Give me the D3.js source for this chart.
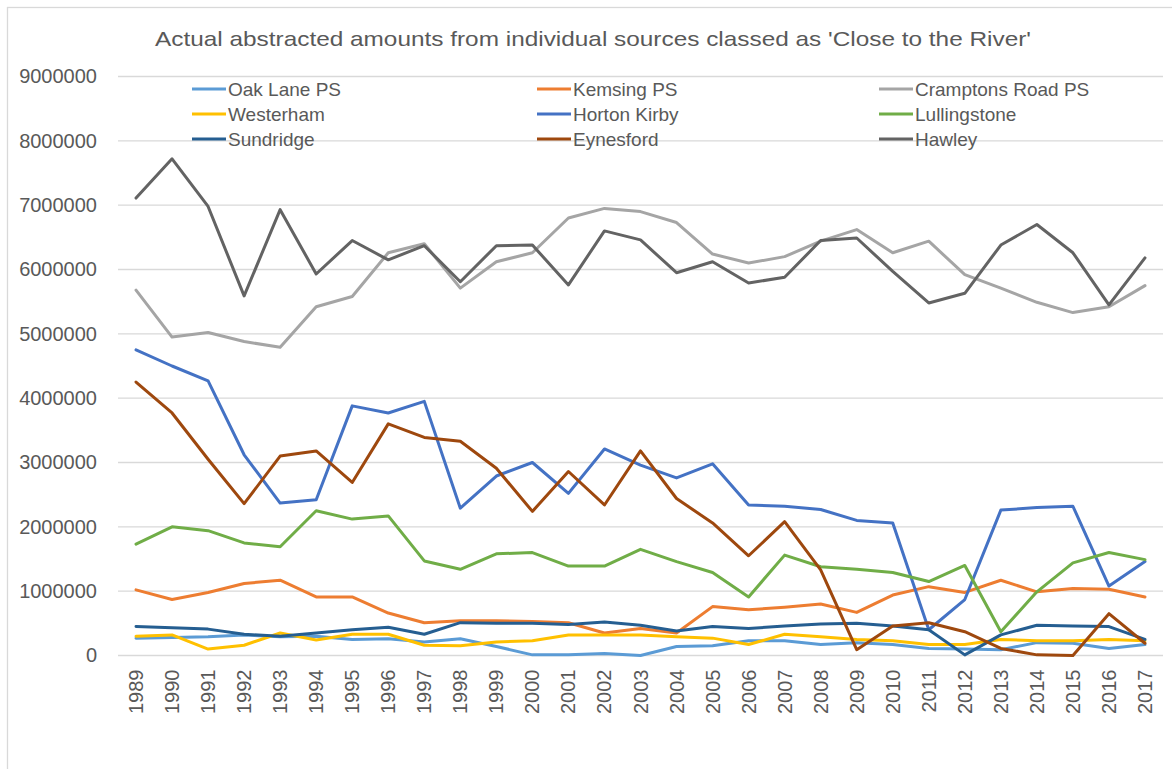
<!DOCTYPE html>
<html>
<head>
<meta charset="utf-8">
<script src="https://cdn.jsdelivr.net/npm/d3@7"></script>
<style>
body{margin:0;background:#fff;}
text{font-family:"Liberation Sans",Arial,sans-serif;fill:#595959;}
</style>
</head>
<body>
<div id="chart"></div>
<script>
// years on the x axis
var years = [1989,1990,1991,1992,1993,1994,1995,1996,1997,1998,1999,2000,2001,2002,2003,2004,2005,2006,2007,2008,2009,2010,2011,2012,2013,2014,2015,2016,2017];
var yTicks = [0,1000000,2000000,3000000,4000000,5000000,6000000,7000000,8000000,9000000];

var seriesNames = ["Oak Lane PS","Kemsing PS","Cramptons Road PS","Westerham","Horton Kirby","Lullingstone","Sundridge","Eynesford","Hawley"];
var seriesColors = ["#5B9BD5","#ED7D31","#A5A5A5","#FFC000","#4472C4","#70AD47","#255E91","#9E480E","#636363"];

// values in millions
var oakLane     = [0.27,0.28,0.29,0.32,0.29,0.30,0.25,0.26,0.21,0.26,0.14,0.01,0.01,0.03,0.00,0.14,0.15,0.23,0.23,0.17,0.20,0.17,0.11,0.10,0.09,0.20,0.19,0.11,0.17];
var kemsing     = [1.02,0.87,0.98,1.12,1.17,0.91,0.91,0.66,0.51,0.54,0.54,0.53,0.51,0.35,0.42,0.35,0.76,0.71,0.75,0.80,0.67,0.94,1.07,0.98,1.17,0.99,1.04,1.03,0.91];
var cramptons   = [5.68,4.95,5.02,4.88,4.79,5.42,5.58,6.26,6.40,5.71,6.12,6.26,6.80,6.95,6.90,6.73,6.24,6.10,6.20,6.44,6.62,6.26,6.44,5.92,5.71,5.49,5.33,5.42,5.75];
var westerham   = [0.30,0.32,0.10,0.16,0.35,0.24,0.33,0.33,0.16,0.15,0.21,0.23,0.32,0.32,0.32,0.29,0.27,0.17,0.33,0.29,0.25,0.23,0.17,0.17,0.25,0.23,0.23,0.25,0.23];
var hortonKirby = [4.75,4.50,4.27,3.12,2.37,2.42,3.88,3.77,3.95,2.29,2.79,3.00,2.52,3.21,2.96,2.76,2.98,2.34,2.32,2.27,2.10,2.06,0.40,0.87,2.26,2.30,2.32,1.08,1.46];
var lullingstone= [1.73,2.00,1.94,1.75,1.69,2.25,2.12,2.17,1.47,1.34,1.58,1.60,1.39,1.39,1.65,1.46,1.29,0.91,1.56,1.38,1.34,1.29,1.15,1.40,0.37,0.99,1.44,1.60,1.49];
var sundridge   = [0.45,0.43,0.41,0.33,0.30,0.35,0.40,0.44,0.33,0.51,0.50,0.50,0.48,0.52,0.47,0.38,0.45,0.42,0.46,0.49,0.50,0.46,0.40,0.01,0.32,0.47,0.46,0.45,0.25];
var eynesford   = [4.25,3.77,3.05,2.36,3.10,3.18,2.69,3.60,3.39,3.33,2.91,2.24,2.86,2.34,3.18,2.44,2.06,1.55,2.08,1.33,0.09,0.46,0.51,0.37,0.11,0.01,0.00,0.65,0.19];
var hawley      = [7.11,7.72,6.98,5.59,6.93,5.93,6.45,6.15,6.37,5.81,6.37,6.38,5.76,6.60,6.46,5.95,6.12,5.79,5.88,6.45,6.49,5.97,5.48,5.63,6.38,6.70,6.26,5.45,6.18];

var allSeries = [oakLane,kemsing,cramptons,westerham,hortonKirby,lullingstone,sundridge,eynesford,hawley];

var svg = d3.select("#chart").append("svg").attr("width",1172).attr("height",769);

// outer chart border (runs off the right and bottom)
svg.append("rect").attr("x",7.5).attr("y",7.5).attr("width",1200).attr("height",800)
   .attr("fill","#fff").attr("stroke","#d9d9d9").attr("stroke-width",1.3);

svg.append("text").attr("x",593).attr("y",46).attr("text-anchor","middle")
   .attr("font-size",21).attr("textLength",876).attr("lengthAdjust","spacingAndGlyphs")
   .text("Actual abstracted amounts from individual sources classed as 'Close to the River'");

var x = d3.scaleBand().domain(years).range([118,1163]);
var y = d3.scaleLinear().domain([0,9000000]).range([655.5,76.5]);

// gridlines
svg.append("g").selectAll("line").data(yTicks).enter().append("line")
   .attr("x1",118).attr("x2",1163)
   .attr("y1",function(d){return y(d)}).attr("y2",function(d){return y(d)})
   .attr("stroke","#d9d9d9").attr("stroke-width",1.3);

// y axis labels
var yAxis = svg.append("g").attr("transform","translate(97,0)")
   .call(d3.axisLeft(y).tickValues(yTicks).tickSize(0).tickPadding(0).tickFormat(d3.format("d")));
yAxis.select(".domain").remove();
yAxis.selectAll("text").attr("font-size",20).attr("fill","#595959").style("font-family","'Liberation Sans',Arial,sans-serif");

// x axis labels, rotated
var xAxis = svg.append("g").attr("transform","translate(0,655.5)")
   .call(d3.axisBottom(x).tickSize(0).tickPadding(0));
xAxis.select(".domain").remove();
xAxis.selectAll("text").attr("font-size",20).attr("fill","#595959").style("font-family","'Liberation Sans',Arial,sans-serif")
   .attr("text-anchor","end").attr("transform","translate(0,14) rotate(-90)").attr("dy","0.35em").attr("y",0).attr("x",0);

var line = d3.line()
   .x(function(d,i){return x(years[i])+x.bandwidth()/2})
   .y(function(d){return y(d*1000000)});

for(var s=0;s<allSeries.length;s++)
{
    svg.append("path").datum(allSeries[s]).attr("d",line)
       .attr("fill","none").attr("stroke",seriesColors[s]).attr("stroke-width",3)
       .attr("stroke-linejoin","round").attr("stroke-linecap","round");
}

// legend: 3 columns x 3 rows
var legX = [192,537,879];
var legY = [89,114,139];
for(var k=0;k<seriesNames.length;k++)
{
    var lx = legX[k%3], ly = legY[Math.floor(k/3)];
    svg.append("line").attr("x1",lx).attr("x2",lx+34).attr("y1",ly).attr("y2",ly)
       .attr("stroke",seriesColors[k]).attr("stroke-width",3);
    svg.append("text").attr("x",lx+36).attr("y",ly).attr("dy","0.35em")
       .attr("font-size",19).text(seriesNames[k]);
}
</script>
</body>
</html>
